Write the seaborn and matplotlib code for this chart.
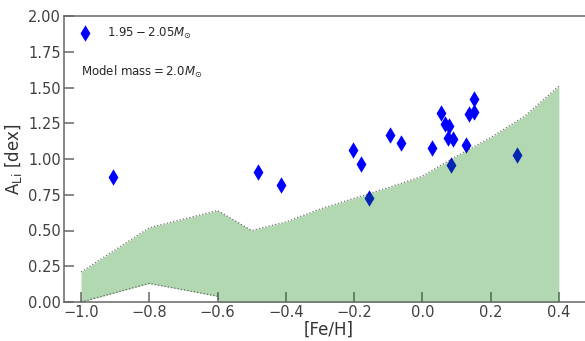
import numpy as np
import pandas as pd
import matplotlib
matplotlib.use("Agg")
import matplotlib.pyplot as plt
import seaborn as sns

# Observed stars
feh = [-0.906, -0.481, -0.415, -0.204, -0.181, -0.156, -0.096, -0.062, 0.028, 0.055,
       0.067, 0.079, 0.076, 0.091, 0.083, 0.128, 0.136, 0.151, 0.152, 0.276]
ali = [0.877, 0.907, 0.816, 1.062, 0.964, 0.727, 1.170, 1.109, 1.074, 1.324,
       1.244, 1.230, 1.144, 1.137, 0.959, 1.095, 1.312, 1.331, 1.418, 1.029]

# Model band (2.0 Msun)
model_feh = [-1.0, -0.8, -0.6, -0.5, -0.4, -0.3, -0.2, -0.1, 0.0, 0.1, 0.2, 0.3, 0.4]
model_upper = [0.21, 0.52, 0.64, 0.50, 0.56, 0.65, 0.725, 0.80, 0.88, 1.02, 1.15, 1.30, 1.51]
model_lower = [0.0, 0.13, 0.04, -0.6, -0.6, -0.6, -0.6, -0.6, -0.6, -0.6, -0.6, -0.6, -0.6]

xticks = [-1.0, -0.8, -0.6, -0.4, -0.2, 0.0, 0.2, 0.4]
yticks = [0.0, 0.25, 0.5, 0.75, 1.0, 1.25, 1.5, 1.75, 2.0]

sns.set_theme(style="ticks")
plt.rcParams['font.family'] = ['DejaVu Sans']

fig = plt.figure(figsize=(5.85, 3.41), dpi=100)
ax = fig.add_axes([64/585, 1-302/341, 529/585, (302-16)/341])

df = pd.DataFrame({"feh": feh, "ali": ali})
sns.scatterplot(data=df, x="feh", y="ali", ax=ax, marker="d", color="blue",
                s=70, linewidth=0, label=r"$1.95-2.05M_{\odot}$", zorder=1)

ax.fill_between(model_feh, model_lower, model_upper, color="green", alpha=0.3,
                linewidth=0, zorder=2)
ax.plot(model_feh, model_upper, color="k", linestyle=":", linewidth=0.9, alpha=0.6, zorder=3)
ax.plot(model_feh, model_lower, color="k", linestyle=":", linewidth=0.9, alpha=0.6, zorder=3)

ax.text(-1.0, 1.61, r"Model mass$=2.0M_{\odot}$", fontsize=8.5, va="center", ha="left",
        color=".15")

ax.set_xlim(-1.05, 0.5)
ax.set_ylim(0, 2.0)
ax.set_xticks(xticks)
ax.set_yticks(yticks)
ax.set_xticklabels([f"{t:.1f}".replace("-", "\u2212") for t in xticks])
ax.set_yticklabels([f"{t:.2f}" for t in yticks])
ax.tick_params(direction="in", length=7, width=1.1, labelsize=10.5, color=".4",
               labelcolor=".25", top=False, right=False, pad=2)
for sp in ax.spines.values():
    sp.set_color(".4")
    sp.set_linewidth(1.1)

ax.set_xlabel("[Fe/H]", fontsize=12, labelpad=1, color=".2")
ax.set_ylabel(r"A$_{\rm Li}$ [dex]", fontsize=12, labelpad=3, color=".2")

leg = ax.legend(loc="upper left", frameon=False, fontsize=8.5, handletextpad=0.8,
                borderaxespad=0.4)

fig.savefig("out.png", dpi=100)
